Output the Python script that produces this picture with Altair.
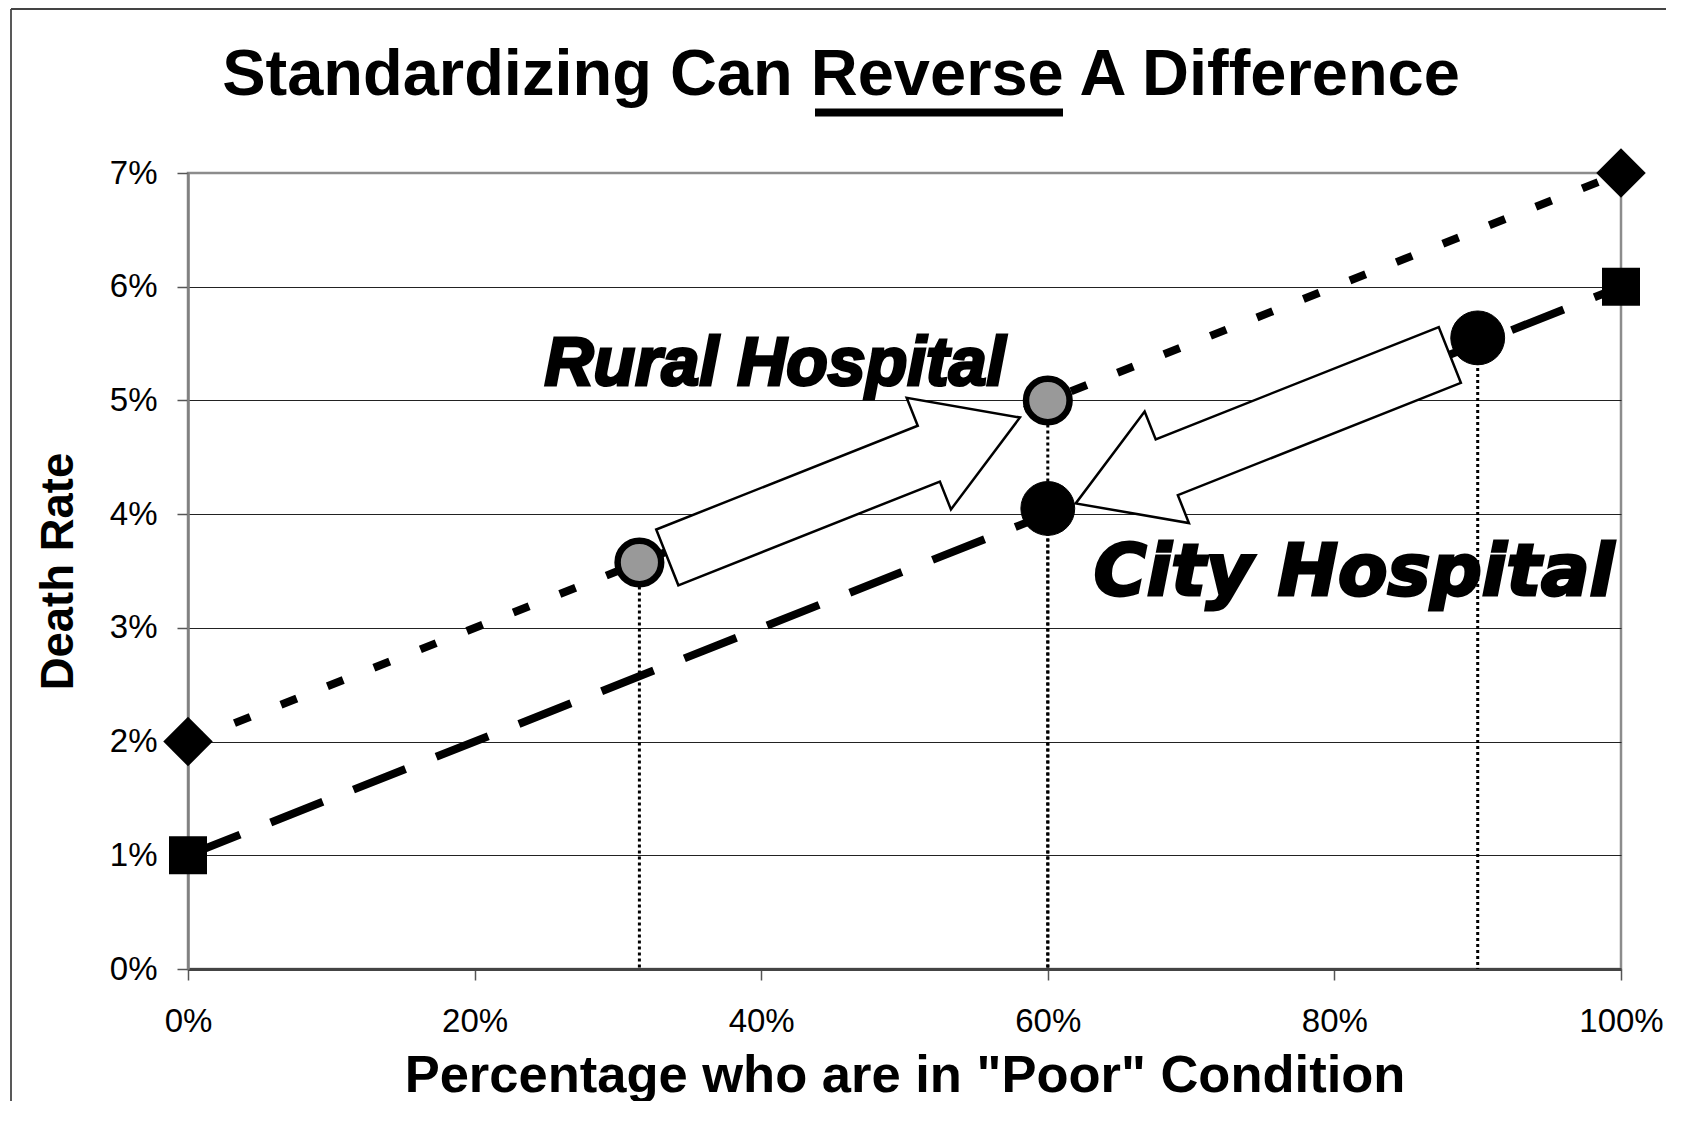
import math
import altair as alt
import pandas as pd

# ---------------- data ----------------
x_ends = [0, 100]
rural_line = [2, 7]          # % death rate at 0% and 100% "poor"
city_line = [1, 6]
rural_x = [31.5, 60]
rural_y = [3.575, 5.0]
city_x = [90, 60]
city_y = [5.55, 4.05]
x_ticks = [0, 20, 40, 60, 80, 100]
y_ticks = [0, 1, 2, 3, 4, 5, 6, 7]

title_text = "Standardizing Can Reverse A Difference"
x_title = 'Percentage who are in "Poor" Condition'
y_title = "Death Rate"

# ---------------- layout ----------------
W, H = 1433, 796
XMAX, YMAX = 100, 7

xs = alt.Scale(domain=[0, XMAX], nice=False, zero=False)
ys = alt.Scale(domain=[0, YMAX], nice=False, zero=False)

lines_df = pd.DataFrame({"x": x_ends * 2, "y": rural_line + city_line,
                         "s": ["Rural"] * 2 + ["City"] * 2})
rural_df = pd.DataFrame({"x": rural_x, "y": rural_y})
city_df = pd.DataFrame({"x": city_x, "y": city_y})
drops_df = pd.concat([rural_df, city_df])


def to_px(x, y):
    return x / XMAX * W, H - y / YMAX * H


def to_data(px, py):
    return px / W * XMAX, (H - py) / H * YMAX


def arrow(p1, p2, name, gap=30, hw=30, hh=60, hl=98, shift=6):
    x1, y1 = to_px(*p1)
    x2, y2 = to_px(*p2)
    dx, dy = x2 - x1, y2 - y1
    L = math.hypot(dx, dy)
    ux, uy = dx / L, dy / L
    nx, ny = -uy, ux
    sx, sy = x1 + gap * ux, y1 + gap * uy + shift
    tx, ty = x2 - gap * ux, y2 - gap * uy + shift
    bx, by = tx - hl * ux, ty - hl * uy
    pts = [(sx + hw * nx, sy + hw * ny), (bx + hw * nx, by + hw * ny),
           (bx + hh * nx, by + hh * ny), (tx, ty),
           (bx - hh * nx, by - hh * ny), (bx - hw * nx, by - hw * ny),
           (sx - hw * nx, sy - hw * ny)]
    rows = []
    for i, (px, py) in enumerate(pts):
        ax, ay = to_data(px, py)
        rows.append({"ax": ax, "ay": ay, "o": i, "arrow": name})
    return rows


arrows_df = pd.DataFrame(
    arrow((rural_x[0], rural_y[0]), (rural_x[1], rural_y[1]), "rural")
    + arrow((city_x[0], city_y[0]), (city_x[1], city_y[1]), "city"))

FONT = "Liberation Sans"

x_axis = alt.Axis(values=x_ticks, labelExpr="datum.value + '%'", labelFont=FONT,
                  labelFontSize=33, labelColor="black", labelPadding=25,
                  labelFlush=False, labelOverlap=False,
                  tickSize=11, tickColor="#555555", tickWidth=1.5,
                  domainColor="#444444", domainWidth=3, grid=False,
                  title=x_title, titleFont=FONT, titleFontSize=52.5,
                  titleFontWeight="bold", titleColor="black", titlePadding=12)
y_axis = alt.Axis(values=y_ticks, labelExpr="datum.value + '%'", labelFont=FONT,
                  labelFontSize=33, labelColor="black", labelPadding=20,
                  labelOverlap=False,
                  tickSize=11, tickColor="#555555", tickWidth=1.5,
                  domainColor="#808080", domainWidth=2.5, grid=True,
                  gridColor={"condition": {"test": "datum.value <= 0 || datum.value >= 7",
                                           "value": "transparent"},
                             "value": "#222222"},
                  gridWidth=1,
                  title=y_title, titleFont=FONT, titleFontSize=45.5,
                  titleFontWeight="bold", titleColor="black", titlePadding=27)


def X(field):
    return alt.X(field, scale=xs, axis=x_axis)


def Y(field):
    return alt.Y(field, scale=ys, axis=y_axis)


rural_ln = alt.Chart(lines_df).transform_filter("datum.s == 'Rural'").mark_line(
    color="black", strokeWidth=8, strokeDash=[17, 33], strokeCap="butt").encode(
    x=X("x:Q"), y=Y("y:Q"))

city_ln = alt.Chart(lines_df).transform_filter("datum.s == 'City'").mark_line(
    color="black", strokeWidth=8, strokeDash=[56, 33], strokeCap="butt").encode(
    x=X("x:Q"), y=Y("y:Q"))

drops = alt.Chart(drops_df).mark_rule(color="black", strokeWidth=3,
                                      strokeDash=[3, 3]).encode(
    x=X("x:Q"), y=Y("y:Q"), y2=alt.datum(0))

arrows = alt.Chart(arrows_df).mark_line(
    interpolate="linear-closed", fill="white", stroke="black", strokeWidth=2.5,
    strokeJoin="miter").encode(
    x=X("ax:Q"), y=Y("ay:Q"), detail="arrow:N", order="o:Q")

diamonds = alt.Chart(lines_df).transform_filter("datum.s == 'Rural'").mark_point(
    shape="diamond", filled=True, color="black", size=2450, opacity=1).encode(
    x=X("x:Q"), y=Y("y:Q"))

squares = alt.Chart(lines_df).transform_filter("datum.s == 'City'").mark_point(
    shape="square", filled=True, color="black", size=1444, opacity=1).encode(
    x=X("x:Q"), y=Y("y:Q"))

rural_pts = alt.Chart(rural_df).mark_point(
    shape="circle", filled=True, fill="#999999", stroke="black", strokeWidth=6.5,
    size=1900, opacity=1).encode(
    x=X("x:Q"), y=Y("y:Q"))

city_pts = alt.Chart(city_df).mark_point(
    shape="circle", filled=True, fill="black", stroke="black", strokeWidth=1,
    size=2900, opacity=1).encode(
    x=X("x:Q"), y=Y("y:Q"))

one = pd.DataFrame({"t": [title_text], "r": ["Rural Hospital"], "c": ["City Hospital"]})

title = alt.Chart(one).mark_text(
    font=FONT, fontSize=65, fontWeight="bold", color="black",
    align="center", baseline="alphabetic").encode(
    text="t:N", x=alt.value(653), y=alt.value(-78))

underline = alt.Chart(one).mark_rule(color="black", strokeWidth=8).encode(
    x=alt.value(627), x2=alt.value(875), y=alt.value(-60.5))

rural_lbl = alt.Chart(one).mark_text(
    font=FONT, fontSize=68, fontWeight="bold", fontStyle="italic", color="black",
    stroke="black", strokeWidth=3, align="center", baseline="alphabetic").encode(
    text="r:N", x=alt.value(587), y=alt.value(212))

city_lbl = alt.Chart(one).mark_text(
    font="DejaVu Sans", fontSize=72, fontWeight="bold", fontStyle="italic",
    color="black", stroke="black", strokeWidth=3, align="center",
    baseline="alphabetic").encode(
    text="c:N", x=alt.value(1166), y=alt.value(422))

# outer frame (left and top edges only, as in the reference crop)
border_left = alt.Chart(one).mark_rule(color="#222222", strokeWidth=1.5).encode(
    x=alt.value(-177), x2=alt.value(-177), y=alt.value(-164), y2=alt.value(1000))
border_top = alt.Chart(one).mark_rule(color="#444444", strokeWidth=2).encode(
    x=alt.value(-177), x2=alt.value(1600), y=alt.value(-164), y2=alt.value(-164))

chart = alt.layer(
    border_left, border_top, rural_ln, city_ln, drops, arrows, diamonds, squares,
    rural_pts, city_pts, rural_lbl, city_lbl, title, underline
).properties(
    width=W, height=H,
    autosize=alt.AutoSizeParams(type="none"),
    padding={"left": 180, "top": 165, "right": 45, "bottom": 132},
    background="white",
).configure_view(stroke="#8c8c8c", strokeWidth=2.5)

chart.save("out.html", embed_options={"renderer": "svg", "actions": False})
